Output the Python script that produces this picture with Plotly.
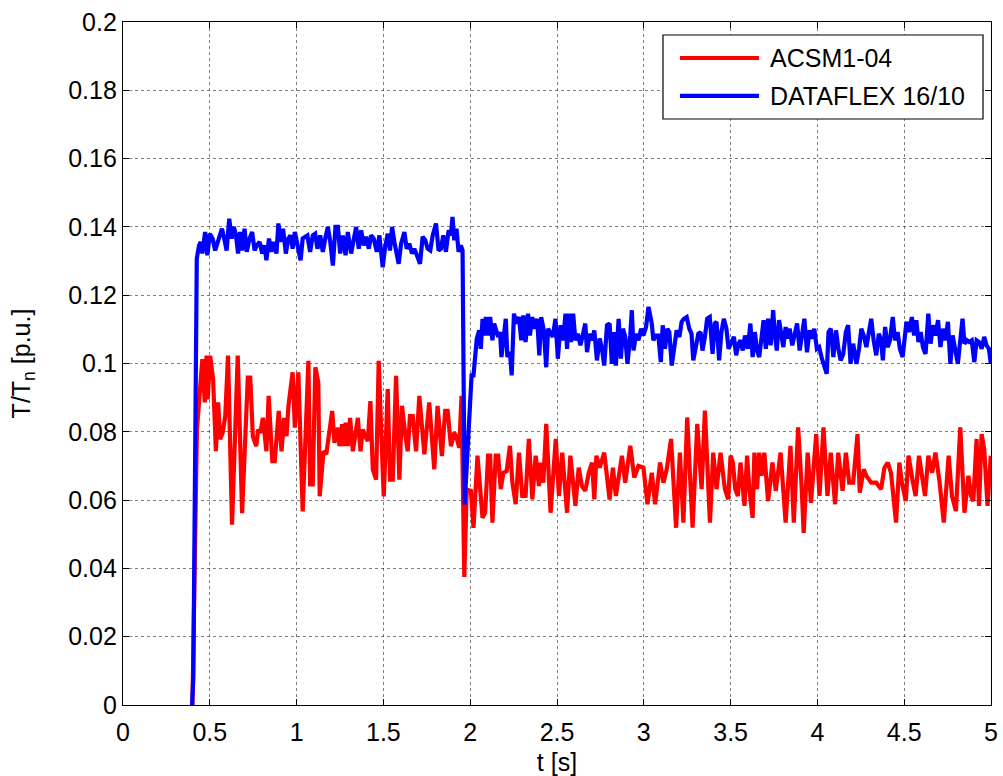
import plotly.graph_objects as go

# Torque response T/Tn versus time for two drives
acsm_t = [
    0.400, 0.426, 0.457, 0.471, 0.481, 0.488, 0.502, 0.519, 0.535, 0.548,
    0.560, 0.574, 0.589, 0.605, 0.628, 0.661, 0.686, 0.719, 0.733, 0.748,
    0.767, 0.779, 0.791, 0.806, 0.826, 0.839, 0.860, 0.874, 0.897, 0.913,
    0.928, 0.942, 0.953, 0.977, 0.990, 1.010, 1.035, 1.068, 1.078, 1.093,
    1.108, 1.125, 1.133, 1.155, 1.171, 1.186, 1.205, 1.218, 1.238, 1.247,
    1.262, 1.272, 1.282, 1.295, 1.308, 1.324, 1.339, 1.353, 1.368, 1.381,
    1.395, 1.410, 1.425, 1.439, 1.458, 1.473, 1.487, 1.502, 1.525, 1.538,
    1.554, 1.573, 1.592, 1.607, 1.627, 1.640, 1.653, 1.669, 1.688, 1.707,
    1.736, 1.764, 1.793, 1.812, 1.837, 1.856, 1.870, 1.889, 1.908, 1.922,
    1.937, 1.950, 1.966, 1.980, 2.004, 2.019, 2.042, 2.071, 2.086, 2.103,
    2.115, 2.128, 2.147, 2.161, 2.176, 2.191, 2.210, 2.229, 2.243, 2.262,
    2.281, 2.300, 2.319, 2.338, 2.358, 2.377, 2.396, 2.405, 2.421, 2.438,
    2.463, 2.493, 2.511, 2.530, 2.558, 2.577, 2.606, 2.625, 2.644, 2.663,
    2.683, 2.702, 2.715, 2.727, 2.746, 2.772, 2.803, 2.822, 2.839, 2.855,
    2.874, 2.893, 2.922, 2.945, 2.969, 2.998, 3.021, 3.046, 3.065, 3.094,
    3.113, 3.132, 3.157, 3.186, 3.208, 3.228, 3.250, 3.281, 3.308, 3.333,
    3.352, 3.381, 3.400, 3.419, 3.442, 3.467, 3.486, 3.500, 3.513, 3.527,
    3.542, 3.557, 3.580, 3.595, 3.608, 3.627, 3.637, 3.652, 3.665, 3.678,
    3.694, 3.716, 3.741, 3.760, 3.788, 3.817, 3.845, 3.864, 3.889, 3.908,
    3.921, 3.944, 3.963, 3.993, 4.012, 4.035, 4.058, 4.077, 4.102, 4.120,
    4.145, 4.164, 4.183, 4.206, 4.231, 4.244, 4.267, 4.282, 4.310, 4.339,
    4.367, 4.386, 4.405, 4.424, 4.453, 4.472, 4.487, 4.509, 4.525, 4.547,
    4.566, 4.585, 4.601, 4.620, 4.639, 4.661, 4.680, 4.703, 4.728, 4.756,
    4.775, 4.798, 4.823, 4.847, 4.870, 4.885, 4.898, 4.917, 4.931, 4.946,
    4.961, 4.980, 4.999,
]
acsm_v = [
    0.0000, 0.0807, 0.1013, 0.0886, 0.1023, 0.0895, 0.1023, 0.0954, 0.0743, 0.0886,
    0.0778, 0.0797, 0.0846, 0.1023, 0.0528, 0.1023, 0.0562, 0.0959, 0.0959, 0.0787,
    0.0758, 0.0807, 0.0797, 0.0841, 0.0743, 0.0905, 0.0714, 0.0714, 0.0861, 0.0743,
    0.0841, 0.0787, 0.0876, 0.0974, 0.0812, 0.0974, 0.0567, 0.1008, 0.0646, 0.0646,
    0.0989, 0.0944, 0.0611, 0.0743, 0.0734, 0.0787, 0.0861, 0.0768, 0.0812, 0.0758,
    0.0822, 0.0758, 0.0827, 0.0758, 0.0841, 0.0743, 0.0787, 0.0841, 0.0743, 0.0807,
    0.0787, 0.0773, 0.0890, 0.0690, 0.0660, 0.1008, 0.0807, 0.0611, 0.0925, 0.0660,
    0.0660, 0.0964, 0.0660, 0.0876, 0.0787, 0.0743, 0.0846, 0.0846, 0.0743, 0.0905,
    0.0734, 0.0886, 0.0690, 0.0876, 0.0729, 0.0861, 0.0861, 0.0758, 0.0797, 0.0783,
    0.0753, 0.0905, 0.0375, 0.0631, 0.0627, 0.0519, 0.0730, 0.0548, 0.0563, 0.0730,
    0.0730, 0.0534, 0.0730, 0.0730, 0.0632, 0.0680, 0.0685, 0.0759, 0.0651, 0.0588,
    0.0739, 0.0612, 0.0612, 0.0779, 0.0602, 0.0730, 0.0641, 0.0710, 0.0651, 0.0823,
    0.0563, 0.0779, 0.0612, 0.0739, 0.0563, 0.0730, 0.0583, 0.0695, 0.0641, 0.0627,
    0.0680, 0.0710, 0.0602, 0.0730, 0.0695, 0.0739, 0.0602, 0.0695, 0.0612, 0.0676,
    0.0730, 0.0651, 0.0759, 0.0666, 0.0700, 0.0695, 0.0588, 0.0680, 0.0588, 0.0710,
    0.0651, 0.0690, 0.0779, 0.0519, 0.0739, 0.0534, 0.0842, 0.0519, 0.0823, 0.0632,
    0.0862, 0.0534, 0.0739, 0.0632, 0.0739, 0.0632, 0.0602, 0.0730, 0.0710, 0.0632,
    0.0612, 0.0710, 0.0583, 0.0730, 0.0632, 0.0548, 0.0739, 0.0632, 0.0739, 0.0671,
    0.0739, 0.0597, 0.0710, 0.0627, 0.0739, 0.0534, 0.0759, 0.0534, 0.0813, 0.0651,
    0.0504, 0.0739, 0.0592, 0.0793, 0.0612, 0.0813, 0.0612, 0.0739, 0.0588, 0.0739,
    0.0627, 0.0739, 0.0651, 0.0651, 0.0793, 0.0622, 0.0690, 0.0671, 0.0651, 0.0651,
    0.0632, 0.0695, 0.0710, 0.0680, 0.0534, 0.0710, 0.0651, 0.0597, 0.0730, 0.0661,
    0.0612, 0.0730, 0.0671, 0.0612, 0.0730, 0.0680, 0.0739, 0.0656, 0.0534, 0.0730,
    0.0612, 0.0568, 0.0813, 0.0563, 0.0671, 0.0612, 0.0597, 0.0779, 0.0583, 0.0793,
    0.0749, 0.0583, 0.0730,
]

dataflex_t = [
    0.398, 0.405, 0.425, 0.438, 0.448, 0.457, 0.473, 0.486, 0.500, 0.516,
    0.531, 0.545, 0.558, 0.570, 0.583, 0.597, 0.612, 0.626, 0.638, 0.651,
    0.663, 0.674, 0.686, 0.700, 0.713, 0.729, 0.744, 0.758, 0.771, 0.787,
    0.802, 0.816, 0.826, 0.841, 0.855, 0.868, 0.884, 0.895, 0.909, 0.922,
    0.938, 0.952, 0.965, 0.977, 0.990, 1.006, 1.023, 1.035, 1.048, 1.062,
    1.078, 1.093, 1.107, 1.120, 1.136, 1.151, 1.165, 1.180, 1.194, 1.209,
    1.224, 1.238, 1.251, 1.266, 1.282, 1.295, 1.314, 1.330, 1.343, 1.358,
    1.372, 1.387, 1.400, 1.416, 1.429, 1.444, 1.462, 1.477, 1.496, 1.510,
    1.525, 1.538, 1.550, 1.563, 1.588, 1.602, 1.621, 1.634, 1.649, 1.665,
    1.678, 1.693, 1.711, 1.726, 1.741, 1.755, 1.770, 1.784, 1.803, 1.818,
    1.831, 1.845, 1.860, 1.876, 1.889, 1.898, 1.908, 1.921, 1.933, 1.946,
    1.956, 1.968, 1.994, 2.008, 2.019, 2.027, 2.038, 2.052, 2.061, 2.071,
    2.080, 2.090, 2.103, 2.115, 2.128, 2.138, 2.151, 2.161, 2.172, 2.180,
    2.191, 2.205, 2.214, 2.229, 2.239, 2.252, 2.266, 2.281, 2.294, 2.306,
    2.319, 2.333, 2.344, 2.358, 2.371, 2.386, 2.398, 2.409, 2.424, 2.438,
    2.449, 2.463, 2.476, 2.491, 2.505, 2.520, 2.535, 2.549, 2.558, 2.568,
    2.581, 2.593, 2.606, 2.620, 2.635, 2.648, 2.663, 2.673, 2.688, 2.702,
    2.715, 2.730, 2.746, 2.759, 2.772, 2.788, 2.803, 2.816, 2.826, 2.839,
    2.855, 2.868, 2.880, 2.893, 2.906, 2.922, 2.931, 2.941, 2.956, 2.969,
    2.985, 2.998, 3.013, 3.027, 3.036, 3.046, 3.055, 3.069, 3.084, 3.098,
    3.109, 3.122, 3.136, 3.147, 3.161, 3.174, 3.189, 3.205, 3.218, 3.231,
    3.247, 3.262, 3.275, 3.285, 3.300, 3.314, 3.327, 3.338, 3.352, 3.365,
    3.380, 3.396, 3.409, 3.419, 3.434, 3.447, 3.461, 3.476, 3.488, 3.519,
    3.532, 3.546, 3.557, 3.570, 3.583, 3.599, 3.614, 3.627, 3.640, 3.652,
    3.665, 3.678, 3.690, 3.703, 3.716, 3.731, 3.745, 3.754, 3.766, 3.779,
    3.788, 3.804, 3.817, 3.826, 3.840, 3.855, 3.868, 3.883, 3.898, 3.912,
    3.925, 3.940, 3.955, 3.969, 3.982, 3.997, 4.010, 4.026, 4.039, 4.054,
    4.064, 4.077, 4.092, 4.107, 4.121, 4.134, 4.149, 4.164, 4.177, 4.191,
    4.206, 4.225, 4.240, 4.253, 4.267, 4.282, 4.295, 4.310, 4.324, 4.339,
    4.354, 4.367, 4.377, 4.390, 4.405, 4.418, 4.434, 4.447, 4.462, 4.475,
    4.491, 4.500, 4.513, 4.528, 4.544, 4.557, 4.570, 4.582, 4.595, 4.608,
    4.623, 4.639, 4.652, 4.665, 4.680, 4.695, 4.709, 4.722, 4.737, 4.752,
    4.766, 4.779, 4.794, 4.809, 4.823, 4.836, 4.847, 4.861, 4.874, 4.889,
    4.904, 4.917, 4.931, 4.946, 4.961, 4.974, 4.988, 4.999,
]
dataflex_v = [
    0.0000, 0.0080, 0.1307, 0.1346, 0.1356, 0.1322, 0.1385, 0.1317, 0.1380, 0.1366,
    0.1331, 0.1351, 0.1371, 0.1395, 0.1366, 0.1331, 0.1424, 0.1366, 0.1400, 0.1375,
    0.1322, 0.1385, 0.1331, 0.1395, 0.1327, 0.1366, 0.1385, 0.1331, 0.1346, 0.1356,
    0.1322, 0.1346, 0.1302, 0.1366, 0.1327, 0.1356, 0.1322, 0.1410, 0.1356, 0.1395,
    0.1322, 0.1366, 0.1375, 0.1336, 0.1385, 0.1346, 0.1302, 0.1366, 0.1371, 0.1375,
    0.1327, 0.1375, 0.1380, 0.1336, 0.1375, 0.1327, 0.1366, 0.1400, 0.1356, 0.1287,
    0.1400, 0.1400, 0.1322, 0.1375, 0.1317, 0.1385, 0.1322, 0.1366, 0.1400, 0.1336,
    0.1390, 0.1346, 0.1371, 0.1336, 0.1375, 0.1366, 0.1327, 0.1375, 0.1282, 0.1341,
    0.1380, 0.1331, 0.1400, 0.1356, 0.1292, 0.1351, 0.1385, 0.1336, 0.1351, 0.1322,
    0.1336, 0.1317, 0.1292, 0.1371, 0.1361, 0.1336, 0.1331, 0.1375, 0.1410, 0.1331,
    0.1336, 0.1375, 0.1327, 0.1390, 0.1375, 0.1429, 0.1361, 0.1395, 0.1327, 0.1346,
    0.1331, 0.0587, 0.0808, 0.0965, 0.0965, 0.1004, 0.1073, 0.1097, 0.1043, 0.1131,
    0.1082, 0.1136, 0.1082, 0.1136, 0.1068, 0.1117, 0.1097, 0.1078, 0.1092, 0.1019,
    0.1068, 0.1131, 0.1019, 0.1033, 0.0965, 0.1146, 0.1117, 0.1136, 0.1068, 0.1141,
    0.1063, 0.1146, 0.1082, 0.1136, 0.1102, 0.1131, 0.1024, 0.1136, 0.1097, 0.0989,
    0.1102, 0.1092, 0.1078, 0.1131, 0.1014, 0.1112, 0.1068, 0.1146, 0.1043, 0.1146,
    0.1063, 0.1146, 0.1068, 0.1087, 0.1053, 0.1082, 0.1117, 0.1033, 0.1087, 0.1068,
    0.1097, 0.1009, 0.1073, 0.1043, 0.0994, 0.1112, 0.1117, 0.0999, 0.1092, 0.0994,
    0.1131, 0.1014, 0.1102, 0.1078, 0.0999, 0.1082, 0.1156, 0.1038, 0.1087, 0.1068,
    0.1102, 0.1082, 0.1107, 0.1166, 0.1141, 0.1117, 0.1068, 0.1082, 0.1082, 0.1004,
    0.1112, 0.1043, 0.1102, 0.1092, 0.0994, 0.1038, 0.1097, 0.1078, 0.1122, 0.1131,
    0.1136, 0.1102, 0.1087, 0.1009, 0.1048, 0.1087, 0.1092, 0.1038, 0.1078, 0.1131,
    0.1136, 0.1028, 0.1117, 0.1122, 0.1009, 0.1092, 0.1131, 0.1102, 0.1043, 0.1078,
    0.1024, 0.1058, 0.1068, 0.1038, 0.1082, 0.1043, 0.1117, 0.1019, 0.1092, 0.1038,
    0.1019, 0.1068, 0.1127, 0.1043, 0.1131, 0.1053, 0.1156, 0.1092, 0.1038, 0.1127,
    0.1102, 0.1048, 0.1107, 0.1073, 0.1102, 0.1053, 0.1082, 0.1117, 0.1038, 0.1092,
    0.1131, 0.1033, 0.1097, 0.1073, 0.1102, 0.1043, 0.1048, 0.1014, 0.0989, 0.0970,
    0.1092, 0.1102, 0.1019, 0.1097, 0.1043, 0.1009, 0.1028, 0.1092, 0.1112, 0.0999,
    0.1058, 0.0999, 0.1043, 0.1102, 0.1082, 0.1048, 0.1087, 0.1131, 0.1068, 0.1024,
    0.1087, 0.1068, 0.1009, 0.1107, 0.1048, 0.1068, 0.1136, 0.1068, 0.1092, 0.1043,
    0.1019, 0.1068, 0.1122, 0.1092, 0.1136, 0.1082, 0.1127, 0.1063, 0.1092, 0.1048,
    0.1028, 0.1146, 0.1058, 0.1112, 0.1082, 0.1127, 0.1048, 0.1102, 0.1068, 0.1122,
    0.0999, 0.1082, 0.1038, 0.0999, 0.1068, 0.1131, 0.1058, 0.1068, 0.1063, 0.1068,
    0.1004, 0.1068, 0.1063, 0.1043, 0.1078, 0.1053, 0.1043, 0.0999,
]

x_ticks = [0, 0.5, 1, 1.5, 2, 2.5, 3, 3.5, 4, 4.5, 5]
x_tick_labels = ["0", "0.5", "1", "1.5", "2", "2.5", "3", "3.5", "4", "4.5", "5"]
y_ticks = [0, 0.02, 0.04, 0.06, 0.08, 0.1, 0.12, 0.14, 0.16, 0.18, 0.2]
y_tick_labels = ["0", "0.02", "0.04", "0.06", "0.08", "0.1", "0.12", "0.14", "0.16", "0.18", "0.2"]

series_names = ["ACSM1-04", "DATAFLEX 16/10"]
series_colors = ["#ff0000", "#0000ff"]

FONT = "Liberation Sans, Arial, Helvetica, sans-serif"
FS = 25
LINE_W = 4.2

fig = go.Figure()
fig.add_trace(go.Scatter(x=acsm_t, y=acsm_v, mode="lines", name=series_names[0],
                         line=dict(color=series_colors[0], width=LINE_W),
                         showlegend=False))
fig.add_trace(go.Scatter(x=dataflex_t, y=dataflex_v, mode="lines", name=series_names[1],
                         line=dict(color=series_colors[1], width=LINE_W),
                         showlegend=False))

axis_common = dict(
    showline=True, linecolor="black", linewidth=1.3, mirror="ticks",
    ticks="inside", ticklen=6, tickcolor="black", tickwidth=1,
    showgrid=True, gridcolor="rgba(0,0,0,0.5)", gridwidth=1, griddash="dot",
    zeroline=False, automargin=False,
    tickfont=dict(family=FONT, size=FS, color="black"),
)

fig.update_xaxes(range=[0, 5], tickvals=x_ticks, ticktext=x_tick_labels,
                 ticklabelstandoff=5,
                 title=dict(text="t [s]", font=dict(family=FONT, size=FS, color="black"),
                            standoff=12),
                 **axis_common)
fig.update_yaxes(range=[0, 0.2], tickvals=y_ticks, ticktext=y_tick_labels,
                 title=dict(text="T/T<sub>n</sub> [p.u.]",
                            font=dict(family=FONT, size=FS, color="black"), standoff=30),
                 **axis_common)

# Legend box drawn in paper coordinates (top right of the axes)
box = dict(x0=0.6221, x1=0.9908, y0=0.858, y1=0.981)
rows_y = [0.9473, 0.8917]
fig.add_shape(type="rect", xref="paper", yref="paper", **box,
              line=dict(color="black", width=1.2), fillcolor="white", layer="above")
for name, color, yy in zip(series_names, series_colors, rows_y):
    fig.add_shape(type="line", xref="paper", yref="paper",
                  x0=0.6417, x1=0.7327, y0=yy, y1=yy,
                  line=dict(color=color, width=LINE_W), layer="above")
    fig.add_annotation(x=0.7431, y=yy, xref="paper", yref="paper", text=name,
                       showarrow=False, xanchor="left", yanchor="middle",
                       font=dict(family=FONT, size=FS, color="black"))

fig.update_layout(
    width=1003, height=776,
    margin=dict(l=123, r=12, t=22, b=71),
    paper_bgcolor="white", plot_bgcolor="white",
    font=dict(family=FONT, color="black"),
)

fig.write_html("out.html")
